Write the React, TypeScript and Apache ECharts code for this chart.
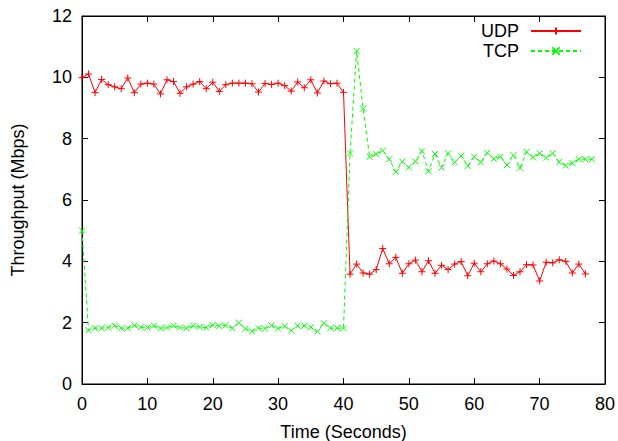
import React, { useEffect, useRef } from "react";
import * as echarts from "echarts";

const udpValues = [
  9.99, 10.11, 9.5, 9.93, 9.76, 9.69, 9.63, 9.98, 9.5, 9.78, 9.81, 9.78, 9.46, 9.92, 9.86, 9.48, 9.69, 9.78, 9.86, 9.63,
  9.84, 9.54, 9.76, 9.81, 9.81, 9.81, 9.79, 9.52, 9.8, 9.77, 9.81, 9.73, 9.55, 9.85, 9.66, 9.92, 9.49, 9.88, 9.79, 9.81, 9.51,
  3.58, 3.91, 3.62, 3.58, 3.73, 4.42, 3.92, 4.13, 3.61, 3.92, 4.04, 3.66, 4.02, 3.61, 3.87, 3.73, 3.91, 3.99, 3.53,
  3.94, 3.66, 3.92, 4.01, 3.92, 3.75, 3.54, 3.66, 3.89, 3.88, 3.36, 3.97, 3.95, 4.05, 4.0, 3.62, 3.91, 3.59,
];

const tcpValues = [
  5.0, 1.75, 1.82, 1.82, 1.84, 1.9, 1.82, 1.82, 1.91, 1.85, 1.84, 1.9, 1.82, 1.84, 1.9, 1.84, 1.82, 1.9, 1.86, 1.84,
  1.92, 1.89, 1.91, 1.82, 2.0, 1.8, 1.72, 1.82, 1.81, 1.91, 1.81, 1.89, 1.74, 1.9, 1.9, 1.85, 1.71, 1.98, 1.82, 1.82, 1.82,
  7.52, 10.86, 8.98, 7.41, 7.5, 7.61, 7.33, 6.92, 7.25, 7.06,
  7.26, 7.59, 6.94, 7.5, 7.06, 7.52, 7.23, 7.44, 7.11, 7.41,
  7.23, 7.54, 7.34, 7.41, 7.14, 7.46, 7.05, 7.57, 7.39, 7.52,
  7.38, 7.52, 7.24, 7.12, 7.2, 7.33, 7.33, 7.33,
];

// time in seconds: one sample per second starting at 0
const udpTime = udpValues.map((_, i) => i);
const tcpTime = tcpValues.map((_, i) => i);

const FONT = "Liberation Sans, Arial, sans-serif";
const PLUS = "path://M0,5L10,5M5,0L5,10";
const CROSS = "path://M0,0L10,10M10,0L0,10";

export default function App() {
  const ref = useRef<HTMLDivElement>(null);
  useEffect(() => {
    if (!ref.current) return;
    const chart = echarts.init(ref.current, undefined, { renderer: "svg" });
    const axisCommon = {
      type: "value" as const,
      axisLine: { show: true, onZero: false, lineStyle: { color: "#000", width: 1 } },
      axisTick: { show: true, inside: true, length: 6, lineStyle: { color: "#000" } },
      splitLine: { show: false },
    };
    chart.setOption({
      animation: false,
      backgroundColor: "#fff",
      textStyle: { fontFamily: FONT },
      grid: {
        left: 82,
        right: 13,
        top: 16,
        bottom: 57,
        outerBoundsMode: "none",
        containLabel: false,
        show: true,
        borderColor: "#000",
        borderWidth: 1,
        backgroundColor: "transparent",
      },
      legend: {
        orient: "vertical",
        right: 31,
        top: 17,
        align: "right",
        itemWidth: 50,
        itemHeight: 9,
        itemGap: 2,
        textStyle: { fontFamily: FONT, fontSize: 18, lineHeight: 16, color: "#000", padding: [0, 7, 0, 0] },
        data: ["UDP", "TCP"],
      },
      xAxis: [
        {
          ...axisCommon,
          position: "bottom",
          min: 0,
          max: 80,
          interval: 10,
          axisLabel: { color: "#000", fontSize: 18, fontFamily: FONT, margin: 11 },
          name: "Time (Seconds)",
          nameLocation: "middle",
          nameGap: 39,
          nameTextStyle: { color: "#000", fontSize: 18, fontFamily: FONT },
        },
        {
          ...axisCommon,
          position: "top",
          min: 0,
          max: 80,
          interval: 10,
          axisLabel: { show: false },
        },
      ],
      yAxis: [
        {
          ...axisCommon,
          position: "left",
          min: 0,
          max: 12,
          interval: 2,
          axisLabel: { color: "#000", fontSize: 18, fontFamily: FONT, margin: 10 },
          name: "Throughput (Mbps)",
          nameLocation: "middle",
          nameGap: 55,
          nameTextStyle: { color: "#000", fontSize: 18, fontFamily: FONT },
        },
        {
          ...axisCommon,
          position: "right",
          min: 0,
          max: 12,
          interval: 2,
          axisLabel: { show: false },
        },
      ],
      series: [
        {
          name: "UDP",
          type: "line",
          clip: false,
          xAxisIndex: 0,
          yAxisIndex: 0,
          data: udpTime.map((t, i) => [t, udpValues[i]]),
          symbol: PLUS,
          symbolSize: 7,
          showSymbol: true,
          lineStyle: { color: "#ff0000", width: 1 },
          itemStyle: { color: "#ff0000", borderColor: "#ff0000", borderWidth: 1 },
        },
        {
          name: "TCP",
          type: "line",
          clip: false,
          xAxisIndex: 0,
          yAxisIndex: 0,
          data: tcpTime.map((t, i) => [t, tcpValues[i]]),
          symbol: CROSS,
          symbolSize: 6,
          showSymbol: true,
          lineStyle: { color: "#00ff00", width: 1, type: [4, 3] },
          itemStyle: { color: "#00ff00", borderColor: "#00ff00", borderWidth: 1 },
        },
        {
          name: "frame",
          type: "line",
          xAxisIndex: 1,
          yAxisIndex: 1,
          data: [],
          silent: true,
        },
      ],
    });
    return () => chart.dispose();
  }, []);
  return (
    <div
      ref={ref}
      style={{ position: "fixed", left: 0, top: 0, width: 618, height: 441 }}
    />
  );
}
